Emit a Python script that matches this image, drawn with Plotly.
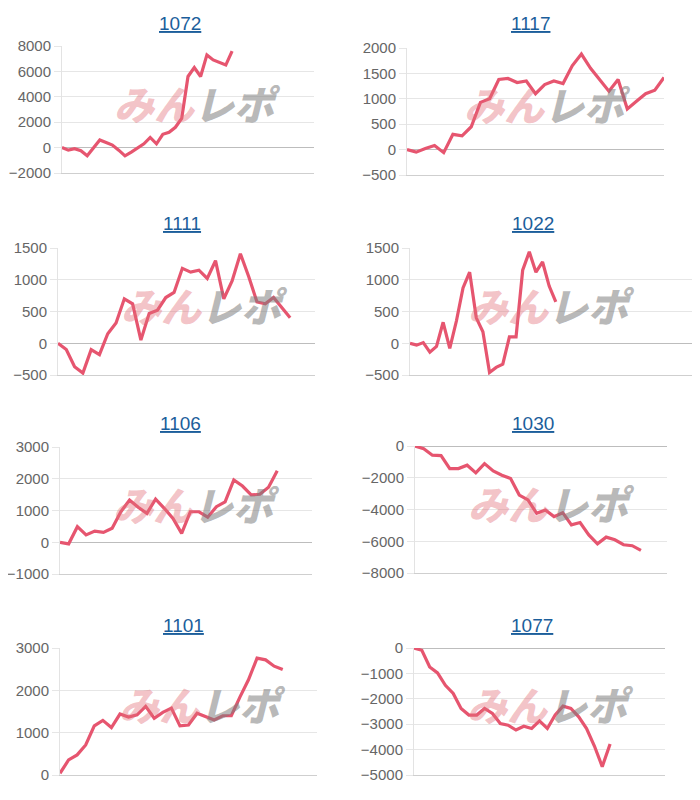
import plotly.graph_objects as go

# ---- data (cumulative values per machine) ----
titles = ["1072", "1117", "1111", "1022", "1106", "1030", "1101", "1077"]

v1072 = [0, -200, -80, -250, -650, -50, 600, 400, 200, -200, -650, -350, -50, 300,
         800, 300, 1050, 1200, 1600, 2300, 5600, 6300, 5600, 7300, 6900, 6700, 6500, 7600]
v1117 = [0, -50, 20, 80, -60, 300, 270, 450, 930, 1000, 1380, 1400, 1320, 1350, 1100,
         1280, 1350, 1300, 1650, 1880, 1600, 1380, 1150, 1380, 800, 950, 1100, 1170, 1420]
v1111 = [0, -100, -370, -470, -100, -180, 150, 320, 700, 620, 50, 470, 520, 720, 800,
         1180, 1120, 1150, 1020, 1300, 700, 980, 1410, 1050, 650, 620, 720, 550, 400]
v1022 = [0, -30, 10, -140, -50, 330, -80, 350, 870, 1120, 400, 180, -460, -380, -330,
         100, 100, 1150, 1440, 1120, 1280, 900, 650]
v1106 = [0, -50, 490, 230, 350, 310, 440, 960, 1330, 1100, 910, 1360, 1070, 750, 280,
         960, 960, 790, 1120, 1270, 1960, 1770, 1490, 1510, 1730, 2250]
v1030 = [0, -170, -580, -600, -1420, -1420, -1210, -1690, -1110, -1570, -1840, -2050,
         -3090, -3400, -4240, -4030, -4450, -4200, -4970, -4820, -5600, -6160, -5740,
         -5910, -6220, -6280, -6580]
v1101 = [40, 355, 475, 710, 1160, 1290, 1120, 1440, 1370, 1420, 1620, 1340, 1480, 1580,
         1160, 1180, 1460, 1380, 1300, 1400, 1400, 1840, 2250, 2760, 2720, 2570, 2490]
v1077 = [0, -90, -750, -980, -1470, -1790, -2380, -2640, -2640, -2380, -2580, -2970,
         -3040, -3230, -3080, -3170, -2870, -3170, -2640, -2290, -2380, -2710, -3170,
         -3860, -4670, -3780]
series = [v1072, v1117, v1111, v1022, v1106, v1030, v1101, v1077]

# number of day labels on each x axis
day_counts = [41, 29, 32, 44, 30, 30, 31, 33]
# y-axis ranges and steps
y_min = [-2000, -500, -500, -500, -1000, -8000, 0, -5000]
y_max = [8000, 2000, 1500, 1500, 3000, 0, 3000, 0]
y_step = [2000, 500, 500, 500, 1000, 2000, 1000, 1000]

# ---- layout geometry (pixels in the 700x800 window) ----
W, H = 700, 800
PAGE_MARGIN = 8  # default body margin of the html page
plot_x = [(62, 314), (407, 664), (58, 315), (410, 695), (60, 312), (415, 667), (60, 317), (414, 665)]
plot_y = [(46, 173), (48, 175), (248, 375), (248, 375), (447, 574), (446, 573), (648, 775), (648, 775)]
title_pos = [(180, 23), (530, 23), (182, 223), (533, 223), (180, 423), (533, 423), (183, 625), (532, 625)]
mark_pos = [(198, 103), (547, 104), (204, 305), (551, 305), (196, 504), (551, 503), (202, 704), (550, 704)]


def px(x):
    return (x - PAGE_MARGIN) / W


def py(y):
    return 1 - (y - PAGE_MARGIN) / H


LINE = "#e6556f"
fig = go.Figure()
annotations = []

for i, vals in enumerate(series):
    k = i + 1
    xa = "x" if k == 1 else f"x{k}"
    ya = "y" if k == 1 else f"y{k}"
    days = list(range(1, len(vals) + 1))
    fig.add_trace(go.Scatter(x=days, y=vals, mode="lines", xaxis=xa, yaxis=ya,
                             line=dict(color=LINE, width=3.2), hoverinfo="skip",
                             showlegend=False))
    x0, x1 = plot_x[i]
    y0, y1 = plot_y[i]
    xkey = "xaxis" if k == 1 else f"xaxis{k}"
    ykey = "yaxis" if k == 1 else f"yaxis{k}"
    fig.layout[xkey] = dict(domain=[px(x0), px(x1)], anchor=ya, range=[1, day_counts[i]],
                            showticklabels=False, showgrid=False, zeroline=False,
                            showline=True, linecolor="#cfcfcf", linewidth=1,
                            automargin=False, fixedrange=True)
    fig.layout[ykey] = dict(domain=[py(y1), py(y0)], anchor=xa,
                            range=[y_min[i], y_max[i]], dtick=y_step[i], tick0=0,
                            showgrid=True, gridcolor="#e6e6e6", gridwidth=1,
                            zeroline=True, zerolinecolor="#bdbdbd", zerolinewidth=1,
                            showline=True, linecolor="#e3e3e3", linewidth=1,
                            ticks="outside", ticklen=7, tickcolor="#e6e6e6",
                            tickfont=dict(family="Liberation Sans, Arial", size=15, color="#666666"),
                            automargin=False, fixedrange=True)
    tx, ty = title_pos[i]
    annotations.append(dict(text=titles[i], x=px(tx), y=py(ty), xref="paper", yref="paper",
                            showarrow=False, xanchor="center", yanchor="middle",
                            font=dict(family="Liberation Sans, Arial", size=19, color="#1b5e9b",
                                      lineposition="under")))
    mx, my = mark_pos[i]
    annotations.append(dict(
        text="<span style='color:rgba(226,110,120,0.42)'>みん</span>"
             "<span style='color:rgba(125,125,125,0.55)'>レポ</span>",
        x=px(mx), y=py(my), xref="paper", yref="paper", showarrow=False,
        xanchor="center", yanchor="middle",
        font=dict(family="Noto Sans CJK JP", size=40, weight=900, style="italic")))

fig.update_layout(width=W, height=H, margin=dict(l=0, r=0, t=0, b=0, autoexpand=False),
                  paper_bgcolor="white", plot_bgcolor="white",
                  annotations=annotations, showlegend=False)

fig.write_html("out.html", config={"displayModeBar": False})
